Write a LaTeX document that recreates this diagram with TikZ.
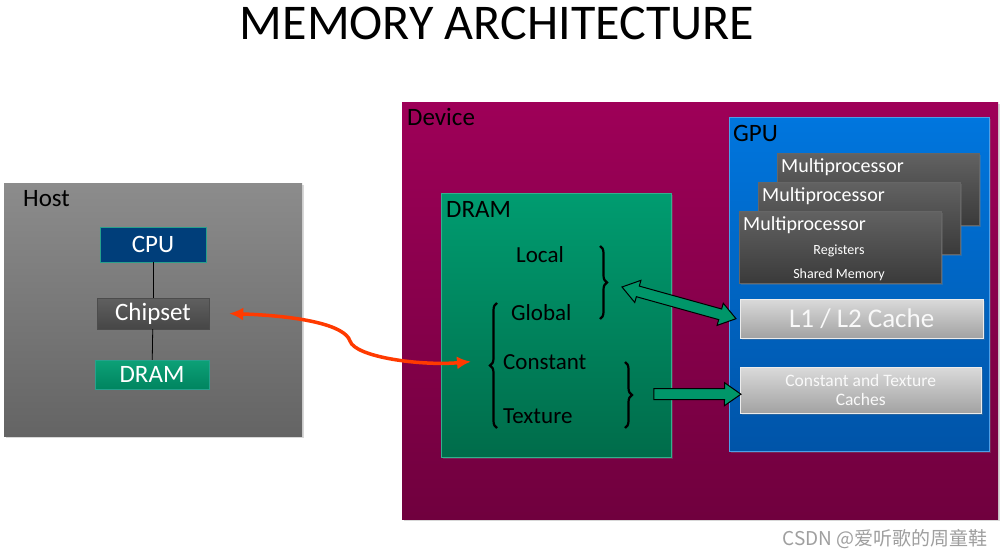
\documentclass[tikz,border=0pt]{standalone}
\usepackage{fontspec}
\setmainfont{Carlito}
\newfontfamily\cjkfont{Noto Sans CJK SC}
\usepackage{tikz}
\usetikzlibrary{shapes,shapes.arrows,decorations.pathreplacing,arrows.meta,calc,positioning,shadows}
\definecolor{hosttop}{RGB}{140,140,140}
\definecolor{hostbot}{RGB}{100,100,100}
\definecolor{devtop}{RGB}{158,0,88}
\definecolor{devbot}{RGB}{112,0,62}
\definecolor{gputop}{RGB}{0,118,222}
\definecolor{gpubot}{RGB}{0,84,168}
\definecolor{dramtop}{RGB}{0,156,112}
\definecolor{drambot}{RGB}{0,108,74}
\definecolor{mptop}{RGB}{98,98,98}
\definecolor{mpbot}{RGB}{58,58,58}
\definecolor{cachetop}{RGB}{218,218,218}
\definecolor{cachebot}{RGB}{162,162,162}
\definecolor{cpublue}{RGB}{0,62,122}
\definecolor{tealline}{RGB}{40,160,140}
\definecolor{arrowgreen}{RGB}{0,150,105}
\definecolor{hotred}{RGB}{255,58,0}

\tikzset{
	semithick,
	frame/.style ={rectangle, inner sep=0pt, anchor=north west,
		drop shadow={opacity=0.3, shadow xshift=2pt, shadow yshift=-2pt}},
	chip/.style ={rectangle, inner sep=0pt, text=white,
		font=\fontsize{25}{25}\selectfont},
	mp/.style ={frame, draw=gray!80!black, thin, top color=mptop, bottom color=mpbot,
		minimum width=202, minimum height=72},
	cache/.style ={frame, draw=gray!15, thin, top color=cachetop, bottom color=cachebot,
		minimum width=243, text=white!95!gray, align=center},
	lbl/.style ={anchor=base west, inner sep=0pt, font=\fontsize{25}{25}\selectfont},
	mem/.style ={anchor=base west, inner sep=0pt, font=\fontsize{23}{23}\selectfont},
	mptext/.style ={inner sep=0pt, text=white, font=\fontsize{20}{20}\selectfont},
	small/.style ={inner sep=0pt, anchor=base, text=white, font=\fontsize{14}{14}\selectfont},
	brace/.style ={decorate, decoration={brace, amplitude=7pt}, line width=2.2pt},
	fat/.style ={draw=black, fill=arrowgreen, line width=1pt, inner xsep=0pt, inner ysep=5pt,
		single arrow head extend=6pt, double arrow head extend=6pt,
		single arrow tip angle=70, double arrow tip angle=70},
	hot/.style ={draw=hotred, line width=3.5pt, {Latex[length=14pt,width=13pt]}-{Latex[length=14pt,width=13pt]}}
}

\begin{document}
\begin{tikzpicture}[x=1pt,y=-1pt]
    \fill[white] (0,0) rectangle (1003,556);
    \useasboundingbox (0,0) rectangle (1003,556);

    \node[font=\fontsize{50}{50}\selectfont] (title) at (497,23) {MEMORY ARCHITECTURE};

    \node[frame, top color=hosttop, bottom color=hostbot, minimum width=298, minimum height=253] (host) at (4,183) {};
    \node[lbl] (hostlbl) at (23,206) {Host};
    \node[chip, draw=tealline, fill=cpublue, minimum width=106, minimum height=35] (cpu) at (153,244.5) {CPU};
    \node[chip, draw=gray!60!black, top color=gray!75!black, bottom color=gray!55!black, minimum width=112, minimum height=31] (chipset) at (153,313.5) {Chipset};
    \node[chip, draw=tealline, top color=dramtop!95!white, bottom color=dramtop!85!black, minimum width=114, minimum height=29] (hostdram) at (152,374.5) {DRAM};
    \path[-, thick] (cpu) edge (chipset);
    \path[-, thick] (chipset) edge (hostdram);

    \node[frame, top color=devtop, bottom color=devbot, minimum width=596, minimum height=417] (device) at (402,102) {};
    \node[lbl] (devlbl) at (407,126) {Device};

    \node[frame, draw=gputop!70!white, thin, top color=gputop, bottom color=gpubot, minimum width=260, minimum height=334] (gpu) at (729,117) {};
    \node[lbl] (gpulbl) at (733,142) {GPU};
    \node[mp] (mpa) at (777,153) {};
    \node[mptext, anchor=base west] at (781,173) {Multiprocessor};
    \node[mp] (mpb) at (758,182) {};
    \node[mptext, anchor=base west] at (762,201) {Multiprocessor};
    \node[mp] (mpc) at (739,211) {};
    \node[mptext, anchor=base west] at (743,230) {Multiprocessor};
    \node[small] (regs) at (839,254) {Registers};
    \node[small] (shmem) at (839,278) {Shared Memory};
    \node[cache, minimum height=39, font=\fontsize{27}{27}\selectfont] (l1) at (740,299) {L1 / L2 Cache};
    \node[cache, minimum height=46, minimum width=241, font=\fontsize{17.5}{19}\selectfont] (ctc) at (740,367) {Constant and Texture\\Caches};

    \node[frame, draw=dramtop!80!white, thin, top color=dramtop, bottom color=drambot, minimum width=230, minimum height=264] (dram) at (441,193) {};
    \node[lbl] (dramlbl) at (446,217) {DRAM};
    \node[mem] (local) at (516,262) {Local};
    \node[mem] (global) at (511,320) {Global};
    \node[mem] (constant) at (503,369) {Constant};
    \node[mem] (texture) at (503,423) {Texture};

    \draw[brace] (600,246) -- (600,319);
    \draw[brace] (497,428) -- (497,303);
    \draw[brace] (625,362) -- (625,428);

    \coordinate (lgtip) at (622,287);
    \coordinate (cttail) at (650,394);
    \path let \p1=($([xshift=-4pt]l1.west)-(lgtip)$), \n1={veclen(\x1,\y1)} in
        (lgtip) -- ([xshift=-4pt]l1.west) node[fat, double arrow, midway, sloped, minimum height=\n1] (lgarrow) {};
    \path let \p1=($([shift={(-3,4)}]ctc.west)-(cttail)$), \n1={veclen(\x1,\y1)} in
        (cttail) -- ([shift={(-3,4)}]ctc.west) node[fat, single arrow, midway, sloped, minimum height=\n1] (ctarrow) {};

    \draw[hot] ([xshift=20pt]chipset.east) .. controls (300,316) and (345,325) .. (350,341)
        .. controls (355,357) and (420,366) .. ([xshift=-32pt]constant.west);

    \node[anchor=base east, inner sep=0pt, text=gray!75, font=\cjkfont\fontsize{19}{19}\selectfont] (mark) at (988,545) {CSDN @爱听歌的周童鞋};
\end{tikzpicture}
\end{document}
